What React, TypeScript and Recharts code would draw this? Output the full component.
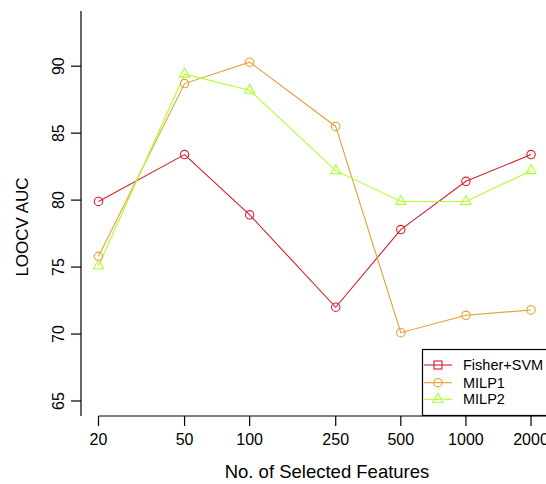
import React from "react";
import { LineChart, Line, XAxis, YAxis, ReferenceLine } from "recharts";

const features = [20, 50, 100, 250, 500, 1000, 2000];
const fisherSvm = [79.9, 83.4, 78.9, 72.0, 77.8, 81.4, 83.4];
const milp1 = [75.8, 88.7, 90.3, 85.5, 70.1, 71.4, 71.8];
const milp2 = [75.1, 89.4, 88.2, 82.2, 79.9, 79.9, 82.2];
const yTicks = [65, 70, 75, 80, 85, 90];
const seriesNames = ["Fisher+SVM", "MILP1", "MILP2"];

const RED = "#D81E2C";
const ORANGE = "#E5A030";
const GREEN = "#ADFF2F";
const FONT = "'Liberation Sans', Arial, Helvetica, sans-serif";

const data = features.map((n, i) => ({
  n,
  fisher: fisherSvm[i],
  milp1: milp1[i],
  milp2: milp2[i],
}));

const X_DOMAIN: [number, number] = [16.6, 2404];
const Y_DOMAIN: [number, number] = [63.88, 94.12];

const CircleDot = (color: string) => (props: any) => {
  const { cx, cy, index } = props;
  if (cx == null || cy == null) return null;
  return <circle key={index} cx={cx} cy={cy} r={4.2} fill="none" stroke={color} strokeWidth={1.1} />;
};

const triPoints = (cx: number, cy: number, s: number) => {
  const r = 1.555 * s;
  const xc = 1.347 * s;
  const yc = 0.778 * s;
  return `${cx},${cy - r} ${cx + xc},${cy + yc} ${cx - xc},${cy + yc}`;
};

const TriDot = (color: string) => (props: any) => {
  const { cx, cy, index } = props;
  if (cx == null || cy == null) return null;
  return <polygon key={index} points={triPoints(cx, cy, 3.8)} fill="none" stroke={color} strokeWidth={1.1} />;
};

const YTick = (props: any) => {
  const { x, y, payload } = props;
  return (
    <text
      x={0}
      y={0}
      transform={`translate(${x - 5},${y}) rotate(-90)`}
      textAnchor="middle"
      fontSize={16}
      fontFamily={FONT}
      fill="#000"
    >
      {payload.value}
    </text>
  );
};

const XTick = (props: any) => {
  const { x, y, payload } = props;
  return (
    <text x={x} y={y + 17} textAnchor="middle" fontSize={16} fontFamily={FONT} fill="#000">
      {payload.value}
    </text>
  );
};

const LegendBox = () => {
  const colors = [RED, ORANGE, GREEN];
  const rows = [16, 33.7, 50.3];
  return (
    <svg width={140} height={68} style={{ overflow: "visible", display: "block" }}>
      <rect x={0.5} y={0.5} width={135} height={66} fill="#fff" stroke="#000" strokeWidth={1.2} />
      {seriesNames.map((name, i) => {
        const y = rows[i];
        const c = colors[i];
        return (
          <g key={name}>
            <line x1={2} x2={30} y1={y} y2={y} stroke={c} strokeWidth={1.1} />
            {i === 0 && <rect x={12} y={y - 4} width={8} height={8} fill="none" stroke={c} strokeWidth={1.1} />}
            {i === 1 && <circle cx={16} cy={y} r={4.2} fill="none" stroke={c} strokeWidth={1.1} />}
            {i === 2 && <polygon points={triPoints(16, y, 3.8)} fill="none" stroke={c} strokeWidth={1.1} />}
            <text x={41} y={y + 5} fontSize={14.5} fontFamily={FONT} fill="#000">
              {name}
            </text>
          </g>
        );
      })}
    </svg>
  );
};

export default function App() {
  return (
    <div
      style={{
        position: "absolute",
        left: 0,
        top: 0,
        width: 546,
        height: 484,
        overflow: "hidden",
        background: "#fff",
      }}
    >
      <LineChart
        width={560}
        height={484}
        data={data}
        margin={{ top: 11, right: 11.7, left: 21, bottom: 0 }}
      >
        <XAxis
          dataKey="n"
          type="number"
          scale="log"
          domain={X_DOMAIN}
          allowDataOverflow
          ticks={features}
          axisLine={false}
          tickLine={{ stroke: "#000", strokeWidth: 1.2 }}
          tickSize={10}
          tick={<XTick />}
          height={68}
          interval={0}
        />
        <YAxis
          type="number"
          domain={Y_DOMAIN}
          allowDataOverflow
          ticks={yTicks}
          axisLine={{ stroke: "#000", strokeWidth: 1.2 }}
          tickLine={{ stroke: "#000", strokeWidth: 1.2 }}
          tickSize={10}
          tick={<YTick />}
          width={60}
          interval={0}
        />
        <ReferenceLine
          segment={[
            { x: 20, y: Y_DOMAIN[0] },
            { x: X_DOMAIN[1], y: Y_DOMAIN[0] },
          ]}
          stroke="#000"
          strokeWidth={1.2}
          ifOverflow="visible"
        />
        <Line
          dataKey="fisher"
          name="Fisher+SVM"
          stroke={RED}
          strokeWidth={1.1}
          dot={CircleDot(RED)}
          isAnimationActive={false}
        />
        <Line
          dataKey="milp1"
          name="MILP1"
          stroke={ORANGE}
          strokeWidth={1.1}
          dot={CircleDot(ORANGE)}
          isAnimationActive={false}
        />
        <Line
          dataKey="milp2"
          name="MILP2"
          stroke={GREEN}
          strokeWidth={1.1}
          dot={TriDot(GREEN)}
          isAnimationActive={false}
        />
        <text
          x={0}
          y={0}
          transform="translate(28,227) rotate(-90)"
          textAnchor="middle"
          fontSize={17}
          fontFamily={FONT}
          fill="#000"
        >
          LOOCV AUC
        </text>
        <text x={327} y={478} textAnchor="middle" fontSize={18.5} fontFamily={FONT} fill="#000">
          No. of Selected Features
        </text>
      </LineChart>
      <div style={{ position: "absolute", left: 422, top: 349 }}>
        <LegendBox />
      </div>
    </div>
  );
}
